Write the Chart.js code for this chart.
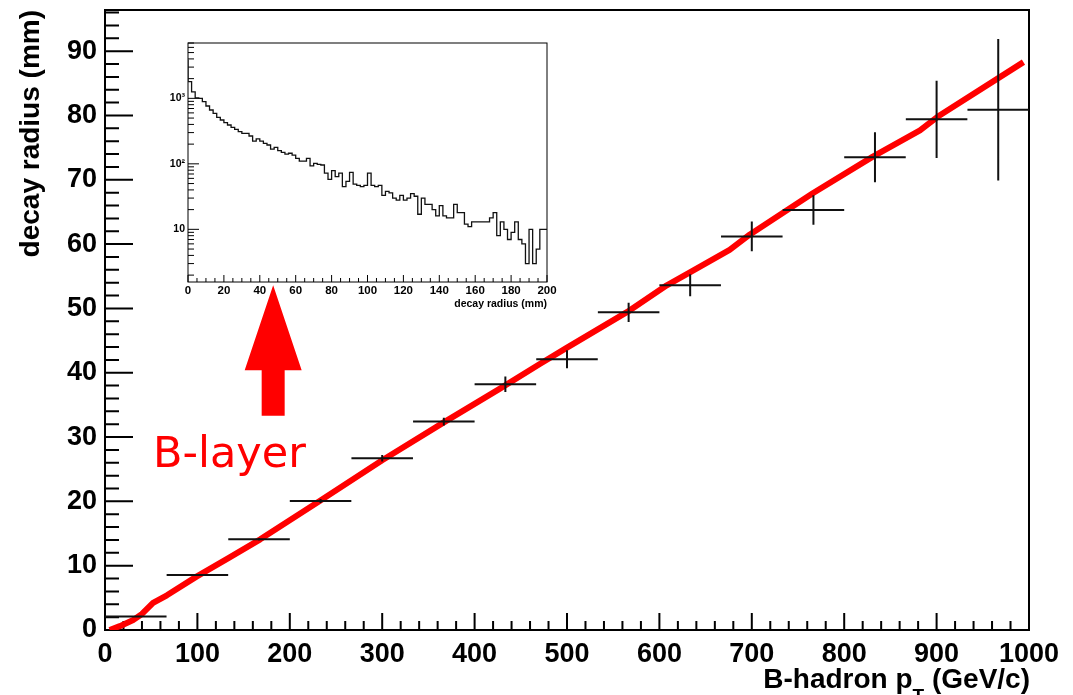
<!DOCTYPE html>
<html>
<head>
<meta charset="utf-8">
<script src="https://cdn.jsdelivr.net/npm/chart.js@4.4.1/dist/chart.umd.min.js"></script>
<style>
html, body { margin: 0; padding: 0; background: #fff; }
#wrap { position: relative; width: 1073px; height: 695px; }
#main { position: absolute; left: 0; top: 0; width: 1073px; height: 695px; }
#inset { position: absolute; left: 150px; top: 33px; width: 410px; height: 282px; }
</style>
</head>
<body>
<div id="wrap">
  <div id="main"><canvas id="c1"></canvas></div>
  <div id="inset"><canvas id="c2"></canvas></div>
</div>
<script>
// profile: mean decay radius per pT bin
const binCenters = [33.3, 100, 166.7, 233.3, 300, 366.7, 433.3, 500, 566.7, 633.3, 700, 766.7, 833.3, 900, 966.7]
const binValues  = [2.1, 8.55, 14.1, 20.05, 26.7, 32.4, 38.2, 42.1, 49.4, 53.6, 61.2, 65.3, 73.5, 79.4, 80.9]
const binErrors  = [0.1, 0.15, 0.2, 0.3, 0.5, 0.6, 1.2, 1.4, 1.5, 1.7, 2.3, 2.3, 3.9, 6.0, 11.0]
const binHalf = 33.3

// red curve
const fitX = [5, 16, 30, 40, 52, 67, 99, 134, 168, 197, 234, 300, 368, 427, 471, 500, 568, 608, 633, 676, 698, 766, 831, 882, 901, 994]
const fitY = [0, 0.6, 1.5, 2.5, 4.2, 5.4, 8.3, 11.2, 14.1, 16.8, 20.2, 26.4, 32.4, 37.5, 41.4, 43.9, 49.7, 53.6, 55.6, 59.1, 61.5, 67.9, 73.6, 77.7, 79.8, 88.3]

// inset histogram, 2 mm bins from 0 to 200 mm
const histBinWidth = 2
const histValues = [3900, 1800, 1260, 1020, 1000, 890, 764, 664, 590, 513,
  467, 425, 392, 361, 337, 310, 292, 292, 266, 223,
  240, 223, 205, 194, 168, 178, 159, 150, 141, 145,
  136, 121, 110, 110, 121, 93, 102, 98, 96, 72,
  58, 79, 64, 72, 45, 54, 74, 49, 47, 45,
  47, 72, 47, 45, 47, 33, 38, 36, 30, 28,
  33, 28, 30, 35, 32, 17, 30, 24, 24, 20,
  16, 23, 16, 15, 15, 24, 18, 18, 12, 11,
  13, 13, 13, 13, 13, 15, 18, 8, 13, 10,
  7, 9, 13, 7, 6, 3, 10, 3, 5, 10]
const insetYTicks = [10, 100, 1000]
const insetYTickLabels = ['10', '10²', '10³']

// annotation
const arrowX = 182, arrowTip = 53.6, arrowBase = 33.3
const noteX = 52, noteY = 25.3

const FONT = '"Liberation Sans", Arial, Helvetica, sans-serif'

// ROOT style frame with ticks pointing inwards
const rootAxes = {
  id: 'rootAxes',
  beforeDatasetsDraw(chart, args, o) {
    const {ctx, chartArea: a, scales: {x, y}} = chart
    ctx.save()
    ctx.strokeStyle = '#000'
    ctx.lineWidth = o.lineWidth
    ctx.strokeRect(a.left, a.top, a.right - a.left, a.bottom - a.top)
    ctx.beginPath()
    for (let v = x.min; v <= x.max + 1e-6; v += o.x.step) {
      const len = Math.abs(v % o.x.major) < 1e-6 ? o.x.long : o.x.short
      const px = x.getPixelForValue(v)
      ctx.moveTo(px, a.bottom); ctx.lineTo(px, a.bottom - len)
    }
    if (o.y.log) {
      for (let e = Math.floor(Math.log10(y.min)); e <= Math.ceil(Math.log10(y.max)); e++) {
        for (let m = 1; m <= 9; m++) {
          const v = m * Math.pow(10, e)
          if (v < y.min || v > y.max) continue
          const py = y.getPixelForValue(v)
          ctx.moveTo(a.left, py); ctx.lineTo(a.left + (m === 1 ? o.y.long : o.y.short), py)
        }
      }
    } else {
      for (let v = y.min; v <= y.max + 1e-6; v += o.y.step) {
        const len = Math.abs(v % o.y.major) < 1e-6 ? o.y.long : o.y.short
        const py = y.getPixelForValue(v)
        ctx.moveTo(a.left, py); ctx.lineTo(a.left + len, py)
      }
    }
    ctx.stroke()
    ctx.restore()
  }
}

const crosses = {
  id: 'crosses',
  afterDatasetsDraw(chart) {
    const {ctx, scales: {x, y}} = chart
    ctx.save()
    ctx.strokeStyle = '#111'
    ctx.lineWidth = 2
    ctx.beginPath()
    binCenters.forEach((c, i) => {
      const px = x.getPixelForValue(c), py = y.getPixelForValue(binValues[i])
      ctx.moveTo(x.getPixelForValue(c - binHalf), py)
      ctx.lineTo(x.getPixelForValue(Math.min(c + binHalf, 1000)), py)
      ctx.moveTo(px, y.getPixelForValue(binValues[i] - binErrors[i]))
      ctx.lineTo(px, y.getPixelForValue(binValues[i] + binErrors[i]))
    })
    ctx.stroke()
    ctx.restore()
  }
}

const notes = {
  id: 'notes',
  afterDraw(chart) {
    const {ctx, chartArea: a, scales: {x, y}} = chart
    ctx.save()
    // arrow
    const ax = x.getPixelForValue(arrowX), tip = y.getPixelForValue(arrowTip), base = y.getPixelForValue(arrowBase)
    const hw = 28.5, sw = 11.5, hl = 85
    ctx.fillStyle = '#ff0000'
    ctx.beginPath()
    ctx.moveTo(ax, tip)
    ctx.lineTo(ax + hw, tip + hl); ctx.lineTo(ax + sw, tip + hl); ctx.lineTo(ax + sw, base)
    ctx.lineTo(ax - sw, base); ctx.lineTo(ax - sw, tip + hl); ctx.lineTo(ax - hw, tip + hl)
    ctx.closePath()
    ctx.fill()
    ctx.font = '43px "DejaVu Sans", sans-serif'
    ctx.textBaseline = 'alphabetic'
    ctx.textAlign = 'left'
    ctx.fillText('B-layer', x.getPixelForValue(noteX), y.getPixelForValue(noteY))
    // x axis title with subscript
    ctx.fillStyle = '#000'
    const big = 'bold 28px ' + FONT, small = 'bold 19px ' + FONT
    const p1 = 'B-hadron p', p2 = 'T', p3 = ' (GeV/c)'
    ctx.font = big
    const w1 = ctx.measureText(p1).width, w3 = ctx.measureText(p3).width
    ctx.font = small
    const w2 = ctx.measureText(p2).width
    let tx = a.right + 1 - (w1 + w2 + w3)
    const base0 = 688
    ctx.font = big; ctx.fillText(p1, tx, base0); tx += w1
    ctx.font = small; ctx.fillText(p2, tx, base0 + 14); tx += w2
    ctx.font = big; ctx.fillText(p3, tx, base0)
    ctx.restore()
  }
}

const noPadX = s => { s.paddingLeft = 0; s.paddingRight = 0 }
const noPadY = s => { s.paddingTop = 0; s.paddingBottom = 0 }

new Chart(document.getElementById('c1'), {
  type: 'scatter',
  data: {
    datasets: [{
      data: fitX.map((v, i) => ({x: v, y: fitY[i]})),
      showLine: true,
      borderColor: '#ff0000',
      borderWidth: 6,
      borderJoinStyle: 'round',
      pointRadius: 0,
      tension: 0
    }]
  },
  options: {
    responsive: true,
    maintainAspectRatio: false,
    animation: false,
    layout: {padding: {top: 10, right: 44, left: 0, bottom: 0}},
    plugins: {
      legend: {display: false},
      tooltip: {enabled: false},
      rootAxes: {lineWidth: 2,
        x: {step: 20, major: 100, long: 17, short: 9},
        y: {step: 2, major: 10, long: 28, short: 14}}
    },
    scales: {
      x: {
        type: 'linear', min: 0, max: 1000,
        afterFit: s => { s.height = 65; noPadX(s) },
        grid: {display: false, drawTicks: false}, border: {display: false},
        ticks: {stepSize: 100, includeBounds: false, maxRotation: 0, autoSkip: false, padding: 8,
          color: '#000', font: {family: FONT, size: 27, weight: 'bold'}, callback: v => String(v)}
      },
      y: {
        type: 'linear', min: 0, max: 96.4,
        afterFit: s => { s.width = 105; noPadY(s) },
        grid: {display: false, drawTicks: false}, border: {display: false},
        ticks: {stepSize: 10, includeBounds: false, padding: 8,
          color: '#000', font: {family: FONT, size: 27, weight: 'bold'}, callback: v => String(v)},
        title: {display: true, text: 'decay radius (mm)', align: 'end', color: '#000',
          padding: {top: 14, bottom: 0}, font: {family: FONT, size: 28, weight: 'bold'}}
      }
    }
  },
  plugins: [rootAxes, crosses, notes]
})

const histPoints = histValues.map((v, i) => ({x: i * histBinWidth, y: v}))
histPoints.push({x: histValues.length * histBinWidth, y: histValues[histValues.length - 1]})

new Chart(document.getElementById('c2'), {
  type: 'scatter',
  data: {
    datasets: [{
      data: histPoints,
      showLine: true,
      stepped: 'after',
      borderColor: '#111',
      borderWidth: 1.3,
      pointRadius: 0
    }]
  },
  options: {
    responsive: true,
    maintainAspectRatio: false,
    animation: false,
    layout: {padding: {top: 10, right: 13, left: 0, bottom: 0}},
    plugins: {
      legend: {display: false},
      tooltip: {enabled: false},
      rootAxes: {lineWidth: 1,
        x: {step: 5, major: 20, long: 7, short: 4},
        y: {log: true, long: 11, short: 6}}
    },
    scales: {
      x: {
        type: 'linear', min: 0, max: 200,
        afterFit: s => { s.height = 33; noPadX(s) },
        grid: {display: false, drawTicks: false}, border: {display: false},
        ticks: {stepSize: 20, includeBounds: false, maxRotation: 0, autoSkip: false, padding: 2,
          color: '#000', font: {family: FONT, size: 11.5, weight: 'bold'}},
        title: {display: true, text: 'decay radius (mm)', align: 'end', color: '#000',
          padding: {top: 0, bottom: 5}, font: {family: FONT, size: 10.5, weight: 'bold'}}
      },
      y: {
        type: 'logarithmic', min: 1.57, max: 7000,
        afterFit: s => { s.width = 38; noPadY(s) },
        afterBuildTicks: s => { s.ticks = insetYTicks.map(v => ({value: v})) },
        grid: {display: false, drawTicks: false}, border: {display: false},
        ticks: {padding: 3, color: '#000', font: {family: FONT, size: 10.5, weight: 'bold'},
          callback: (v, i) => insetYTickLabels[i]}
      }
    }
  },
  plugins: [rootAxes]
})
</script>
</body>
</html>
